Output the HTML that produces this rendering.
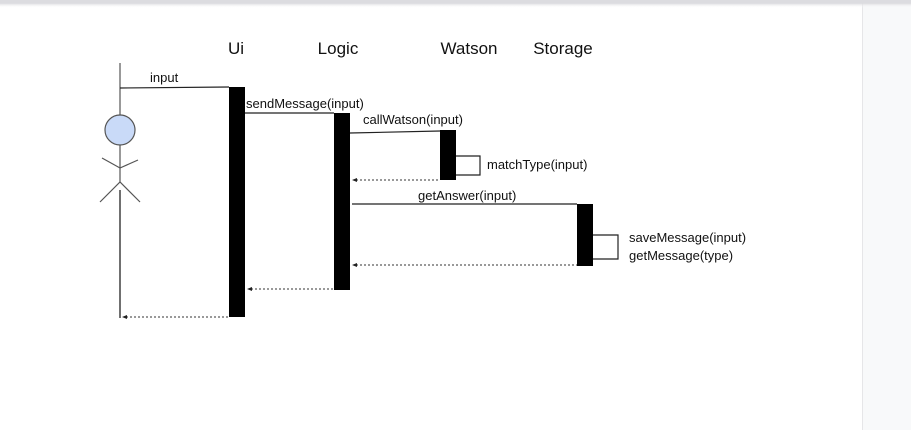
<!DOCTYPE html>
<html><head><style>
html,body{margin:0;padding:0;background:#fff;}
body{width:911px;height:430px;overflow:hidden;position:relative;}
svg{position:absolute;left:0;top:0;}
text{font-family:"Liberation Sans",Arial,sans-serif;fill:#111;}
</style></head><body>
<svg width="911" height="430" viewBox="0 0 911 430">
<defs>
<linearGradient id="sh" x1="0" y1="0" x2="0" y2="1"><stop offset="0" stop-color="#d8d8dc"/><stop offset="1" stop-color="#fff" stop-opacity="0"/></linearGradient>
</defs>
<rect x="0" y="0" width="911" height="430" fill="#fff"/>
<rect x="862" y="0" width="49" height="430" fill="#f8f9fa"/>
<line x1="862.5" y1="0" x2="862.5" y2="430" stroke="#e6e6e8"/>
<rect x="0" y="0" width="911" height="3" fill="#dcdce0"/>
<rect x="0" y="3" width="911" height="5" fill="url(#sh)"/>

<text x="236" y="54" font-size="17" text-anchor="middle">Ui</text>
<text x="338" y="54" font-size="17" text-anchor="middle">Logic</text>
<text x="469" y="54" font-size="17" text-anchor="middle">Watson</text>
<text x="563" y="54" font-size="17" text-anchor="middle">Storage</text>

<g stroke="#555" stroke-width="1.2" fill="none">
<line x1="120" y1="63" x2="120" y2="115"/>
<circle cx="120" cy="130" r="15" fill="#c9daf8"/>
<line x1="120" y1="145" x2="120" y2="182"/>
<polyline points="102,158 120,168 138,160"/>
<polyline points="100,202 120,182 140,202"/>
</g>
<line x1="120" y1="190" x2="120" y2="318" stroke="#111" stroke-width="1.2"/>

<rect x="229" y="87" width="16" height="230" fill="#000"/>
<rect x="334" y="113" width="16" height="177" fill="#000"/>
<rect x="440" y="130" width="16" height="50" fill="#000"/>
<rect x="577" y="204" width="16" height="62" fill="#000"/>

<g stroke="#222" stroke-width="1.2" fill="none">
<line x1="120" y1="88" x2="229" y2="87"/>
<line x1="245" y1="113" x2="334" y2="113"/>
<line x1="350" y1="133" x2="440" y2="131"/>
<line x1="352" y1="204" x2="577" y2="204"/>
<polyline points="456,156 480,156 480,175 456,175"/>
<polyline points="593,235 618,235 618,259 593,259"/>
</g>
<g stroke="#333" stroke-width="1" stroke-dasharray="2,2" fill="none">
<line x1="356" y1="180" x2="440" y2="180"/>
<line x1="356" y1="265" x2="577" y2="265"/>
<line x1="251" y1="289" x2="334" y2="289"/>
<line x1="126" y1="317" x2="229" y2="317"/>
</g>
<g fill="#222">
<polygon points="352,180 357,178 357,182"/>
<polygon points="352,265 357,263 357,267"/>
<polygon points="247,289 252,287 252,291"/>
<polygon points="122,317 127,315 127,319"/>
</g>

<text x="150" y="82" font-size="13">input</text>
<text x="246" y="108" font-size="13">sendMessage(input)</text>
<text x="363" y="124" font-size="13">callWatson(input)</text>
<text x="487" y="169" font-size="13">matchType(input)</text>
<text x="418" y="200" font-size="13">getAnswer(input)</text>
<text x="629" y="242" font-size="13">saveMessage(input)</text>
<text x="629" y="260" font-size="13">getMessage(type)</text>
</svg>
</body></html>
